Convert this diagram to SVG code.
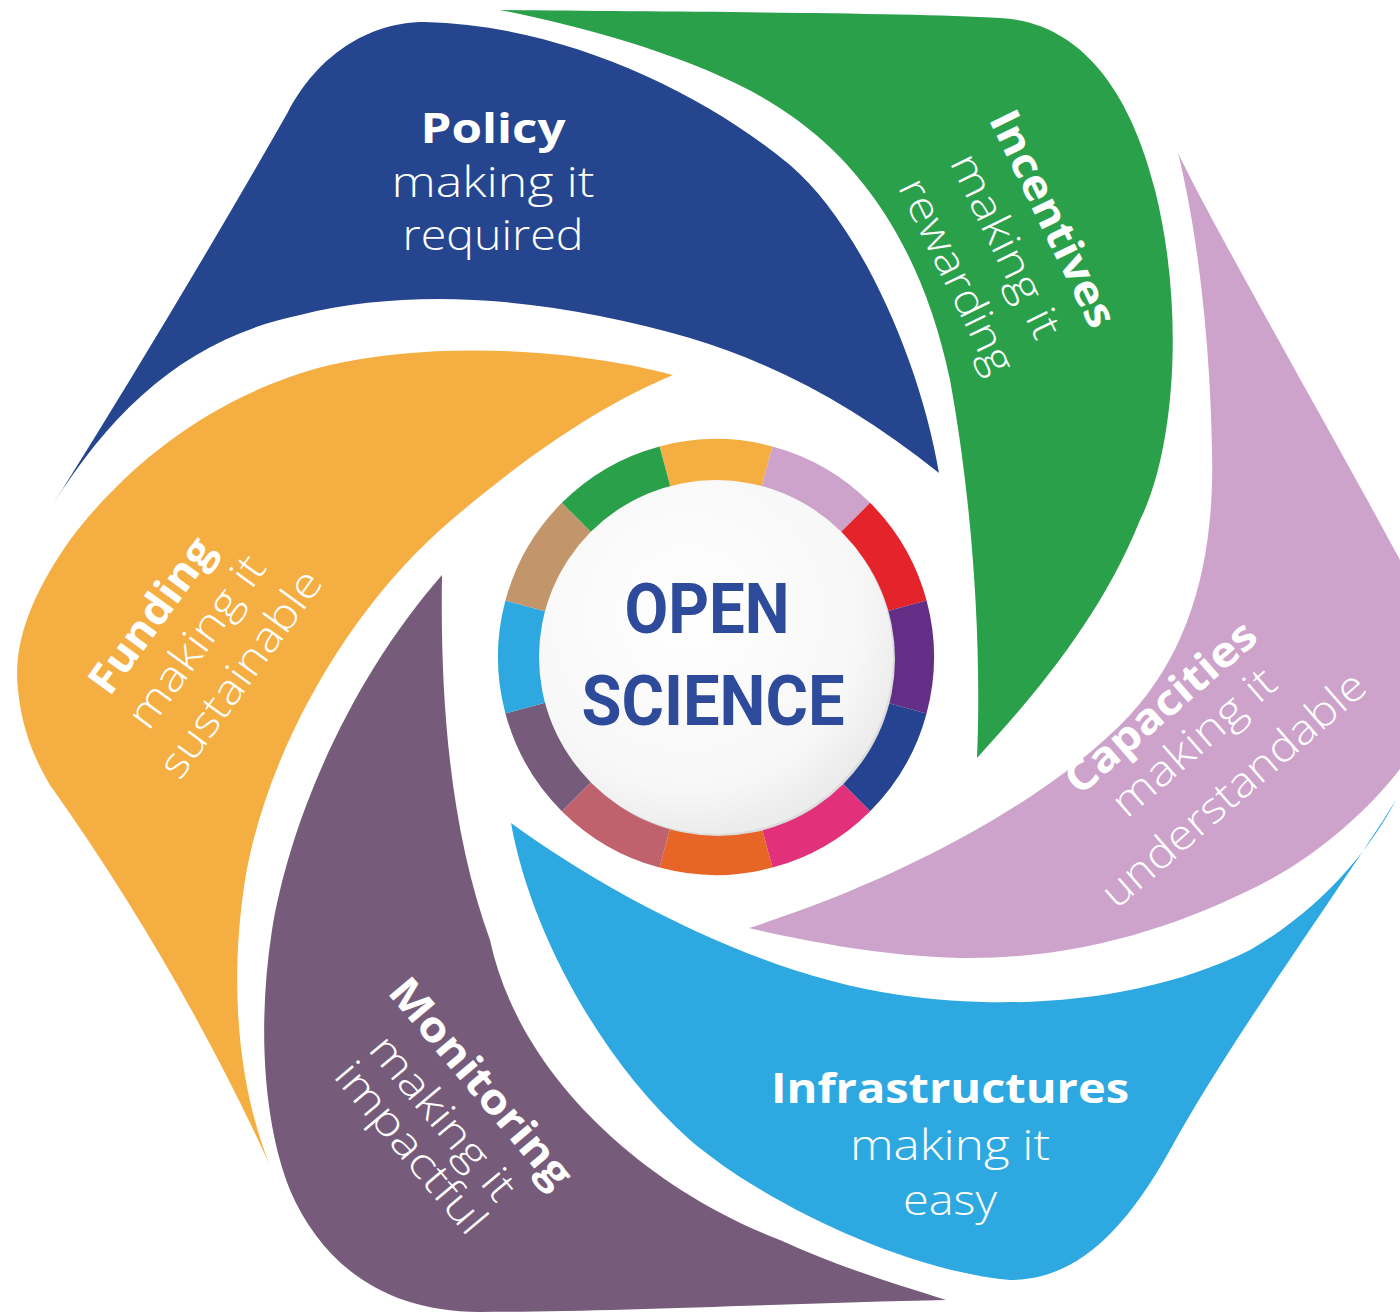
<svg xmlns="http://www.w3.org/2000/svg" width="1400" height="1315" viewBox="0 0 1400 1315">
<defs>
<radialGradient id="disk" cx="0.42" cy="0.38" r="0.62">
<stop offset="0" stop-color="#ffffff"/>
<stop offset="0.8" stop-color="#f7f7f7"/>
<stop offset="1" stop-color="#ececec"/>
</radialGradient>
<style>
.title{font-family:"Open Sans","Liberation Sans",sans-serif;font-weight:700;fill:#ffffff;font-size:42px;text-anchor:middle}
.sub{font-family:"Open Sans","Liberation Sans",sans-serif;font-weight:300;fill:#ffffff;font-size:42px;text-anchor:middle}
.os{font-family:Roboto,"DejaVu Sans",sans-serif;font-weight:700;fill:#2E4A9A;font-size:70px;text-anchor:middle}
.seg{fill:none;stroke-width:42}
</style>
</defs>
<rect width="1400" height="1315" fill="#ffffff"/>

<g id="policy">
<path fill="#25458F" d="M52,506 Q175,310 288,112 C312,65 360,22 425,22 C560,25 700,90 790,165 C860,225 920,360 939,473 C860,410 780,365 690,338 C560,300 420,285 300,315 C190,338 115,405 52,506 Z"/>
<text class="title" x="493" y="143" textLength="145" lengthAdjust="spacingAndGlyphs">Policy</text>
<text class="sub" x="493" y="197" textLength="203" lengthAdjust="spacingAndGlyphs">making it</text>
<text class="sub" x="493" y="250" textLength="181" lengthAdjust="spacingAndGlyphs">required</text>
</g>

<g id="incentives">
<path fill="#2BA04B" d="M500,10 C650,12 900,12 1000,18 C1080,22 1130,90 1155,190 C1185,310 1175,450 1140,520 C1100,620 1030,700 977,758 C982,640 972,500 950,380 C925,260 870,170 790,115 C720,65 600,30 500,10 Z"/>
<text class="title" transform="translate(1040,225) rotate(64)" textLength="236" lengthAdjust="spacingAndGlyphs">Incentives</text>
<text class="sub" transform="translate(993,252) rotate(64)" textLength="200" lengthAdjust="spacingAndGlyphs">making it</text>
<text class="sub" transform="translate(944,282) rotate(64)" textLength="212" lengthAdjust="spacingAndGlyphs">rewarding</text>
</g>

<g id="capacities">
<path fill="#CDA3CB" d="M1178,153 C1215,230 1330,430 1400,560 L1420,600 L1420,740 C1390,790 1330,850 1258,886 C1180,925 1080,960 960,958 C880,956 800,940 749,928 C900,880 1050,800 1130,715 C1190,650 1215,560 1212,450 C1210,330 1195,220 1178,153 Z"/>
<text class="title" transform="translate(1170,718) rotate(-41)" textLength="239" lengthAdjust="spacingAndGlyphs">Capacities</text>
<text class="sub" transform="translate(1203,753) rotate(-41)" textLength="203" lengthAdjust="spacingAndGlyphs">making it</text>
<text class="sub" transform="translate(1243,800) rotate(-41)" textLength="335" lengthAdjust="spacingAndGlyphs">understandable</text>
</g>

<g id="infrastructures">
<path fill="#2EA8E0" d="M511,823 C610,895 760,975 900,995 C1020,1012 1150,1000 1250,950 C1320,910 1370,850 1396,800 C1340,890 1230,1040 1170,1150 C1120,1240 1070,1280 1010,1280 C900,1270 760,1200 690,1140 C600,1060 530,930 511,823 Z"/>
<text class="title" x="950" y="1103" textLength="358" lengthAdjust="spacingAndGlyphs">Infrastructures</text>
<text class="sub" x="950" y="1160" textLength="200" lengthAdjust="spacingAndGlyphs">making it</text>
<text class="sub" x="950" y="1215" textLength="94" lengthAdjust="spacingAndGlyphs">easy</text>
</g>

<g id="monitoring">
<path fill="#775B7A" d="M442,575 C440,700 450,830 490,940 C520,1080 650,1190 780,1240 C840,1268 900,1285 946,1300 C800,1303 600,1312 480,1312 C380,1312 320,1260 290,1190 C262,1120 258,1020 272,930 C290,820 350,680 442,575 Z"/>
<text class="title" transform="translate(470,1092) rotate(50)" textLength="260" lengthAdjust="spacingAndGlyphs">Monitoring</text>
<text class="sub" transform="translate(432,1127) rotate(50)" textLength="202" lengthAdjust="spacingAndGlyphs">making it</text>
<text class="sub" transform="translate(400,1157) rotate(50)" textLength="211" lengthAdjust="spacingAndGlyphs">impactful</text>
</g>

<g id="funding">
<path fill="#F5AE42" d="M673,375 C580,350 440,340 330,365 C220,392 130,460 70,540 C35,590 12,640 18,690 C22,730 35,760 50,785 Q177,964 269,1163 C240,1090 228,990 245,880 C265,760 340,620 440,530 C520,460 600,405 673,375 Z"/>
<text class="title" transform="translate(163,624) rotate(-54)" textLength="182" lengthAdjust="spacingAndGlyphs">Funding</text>
<text class="sub" transform="translate(208,650) rotate(-54)" textLength="203" lengthAdjust="spacingAndGlyphs">making it</text>
<text class="sub" transform="translate(252,682) rotate(-54)" textLength="246" lengthAdjust="spacingAndGlyphs">sustainable</text>
</g>

<g id="open-science">
<g id="ring">
<path class="seg" stroke="#F5AE42" d="M665.01,466.71 A197,197 0 0 1 766.99,466.71"/>
<path class="seg" stroke="#CDA3CB" d="M766.99,466.71 A197,197 0 0 1 855.30,517.70"/>
<path class="seg" stroke="#E4232B" d="M855.30,517.70 A197,197 0 0 1 906.29,606.01"/>
<path class="seg" stroke="#622E86" d="M906.29,606.01 A197,197 0 0 1 906.29,707.99"/>
<path class="seg" stroke="#254390" d="M906.29,707.99 A197,197 0 0 1 855.30,796.30"/>
<path class="seg" stroke="#E2307A" d="M855.30,796.30 A197,197 0 0 1 766.99,847.29"/>
<path class="seg" stroke="#E76526" d="M766.99,847.29 A197,197 0 0 1 665.01,847.29"/>
<path class="seg" stroke="#C0626D" d="M665.01,847.29 A197,197 0 0 1 576.70,796.30"/>
<path class="seg" stroke="#775B7A" d="M576.70,796.30 A197,197 0 0 1 525.71,707.99"/>
<path class="seg" stroke="#2DA8E0" d="M525.71,707.99 A197,197 0 0 1 525.71,606.01"/>
<path class="seg" stroke="#C2966A" d="M525.71,606.01 A197,197 0 0 1 576.70,517.70"/>
<path class="seg" stroke="#2BA04B" d="M576.70,517.70 A197,197 0 0 1 665.01,466.71"/>
</g>
<circle cx="718" cy="659" r="177" fill="#dcdcdc"/>
<circle cx="716" cy="657" r="177" fill="url(#disk)"/>
<text class="os" x="707" y="633" textLength="165" lengthAdjust="spacingAndGlyphs">OPEN</text>
<text class="os" x="713" y="725" textLength="263" lengthAdjust="spacingAndGlyphs">SCIENCE</text>
</g>
</svg>
